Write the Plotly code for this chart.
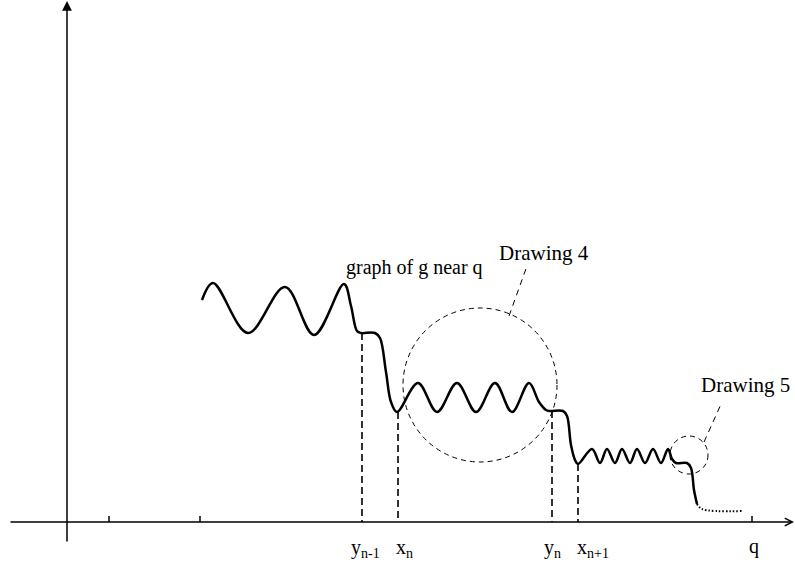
import plotly.graph_objects as go

# drawing is laid out in picture units: x to the right, y downwards
W, H = 795, 568

# knots of the graph of g (peaks, troughs, plateau corners)
curve_x = [202, 213, 248, 285, 314, 344, 351, 357, 361, 375, 380, 386, 391, 397,
           418, 437, 457, 476, 495, 512, 529, 539, 546, 550, 563, 567, 571, 575, 578,
           592, 600, 607, 615, 622, 630, 637, 645, 653, 661, 668, 672, 676, 687, 691, 694, 697]
curve_y = [300, 283, 333, 287, 335, 284, 306, 331, 333, 333, 338, 372, 402, 412,
           383, 412, 383, 412, 383, 412, 383, 402, 410, 411, 411, 416, 445, 460, 464,
           449, 463, 449, 463, 449, 463, 449, 463, 449, 463, 449, 459, 463, 463, 468, 490, 504]

# dotted tail towards q
tail_x = [697, 702, 743]
tail_y = [504, 509, 511]

# dashed drop lines: y_{n-1}, x_n, y_n, x_{n+1}
drop_x = [362, 398, 552, 578]
drop_top = [333, 412, 411, 464]
drop_labels = ["y<sub>n-1</sub>", "x<sub>n</sub>", "y<sub>n</sub>", "x<sub>n+1</sub>"]
label_left = [349, 394, 542, 575]

axis_y = 522
tick_x = [109, 200, 752]

# dashed circles (cx, cy, r) and their labels
circ_cx = [480, 689]
circ_cy = [385, 455]
circ_r = [77, 19]
lead_x0 = [509, 704]
lead_y0 = [316, 442]
lead_x1 = [527, 722]
lead_y1 = [266, 402]
circ_labels = ["Drawing 4", "Drawing 5"]
circ_lab_x = [544, 745]
circ_lab_y = [253, 385]

FONT = "Liberation Serif"

fig = go.Figure()

fig.add_trace(go.Scatter(x=curve_x, y=curve_y, mode="lines",
                         line=dict(color="black", width=2.5, shape="spline", smoothing=1.0)))
fig.add_trace(go.Scatter(x=tail_x, y=tail_y, mode="lines",
                         line=dict(color="black", width=2, dash="1.5px,2px", shape="spline")))

# drop lines
dx, dy = [], []
for x, t in zip(drop_x, drop_top):
    dx += [x, x, None]
    dy += [t, axis_y, None]
fig.add_trace(go.Scatter(x=dx, y=dy, mode="lines",
                         line=dict(color="black", width=1.6, dash="7px,4px")))

# ticks
tx, ty = [], []
for x in tick_x:
    tx += [x, x, None]
    ty += [axis_y - 6, axis_y, None]
fig.add_trace(go.Scatter(x=tx, y=ty, mode="lines", line=dict(color="black", width=1.5)))

# leaders
lx, ly = [], []
for a, b, c, d in zip(lead_x0, lead_y0, lead_x1, lead_y1):
    lx += [a, c, None]
    ly += [b, d, None]
fig.add_trace(go.Scatter(x=lx, y=ly, mode="lines",
                         line=dict(color="black", width=1, dash="6px,5px")))

for cx, cy, r in zip(circ_cx, circ_cy, circ_r):
    fig.add_shape(type="circle", xref="x", yref="y", x0=cx - r, x1=cx + r, y0=cy - r, y1=cy + r,
                  line=dict(color="black", width=1, dash="5px,4px"))

# axes with arrows
fig.add_annotation(x=67, y=1, ax=67, ay=543, xref="x", yref="y", axref="x", ayref="y",
                   showarrow=True, arrowhead=2, arrowsize=1.3, arrowwidth=1.5,
                   arrowcolor="black", text="")
fig.add_annotation(x=794, y=axis_y, ax=9, ay=axis_y, xref="x", yref="y", axref="x", ayref="y",
                   showarrow=True, arrowhead=5, arrowsize=1.0, arrowwidth=1.5,
                   arrowcolor="black", text="")

for t, x in zip(drop_labels, label_left):
    fig.add_annotation(x=x, y=548, xref="x", yref="y", text=t, showarrow=False,
                       xanchor="left", yanchor="middle", font=dict(family=FONT, size=20, color="black"))
fig.add_annotation(x=754, y=546, xref="x", yref="y", text="q", showarrow=False,
                   font=dict(family=FONT, size=20, color="black"))
fig.add_annotation(x=414, y=267, xref="x", yref="y", text="graph of g near q", showarrow=False,
                   font=dict(family=FONT, size=20, color="black"))
for t, x, y in zip(circ_labels, circ_lab_x, circ_lab_y):
    fig.add_annotation(x=x, y=y, xref="x", yref="y", text=t, showarrow=False,
                       font=dict(family=FONT, size=21, color="black"))

fig.update_layout(width=W, height=H, autosize=False, showlegend=False,
                  margin=dict(l=0, r=0, t=0, b=0),
                  paper_bgcolor="white", plot_bgcolor="white",
                  xaxis=dict(range=[0, W], visible=False, fixedrange=True),
                  yaxis=dict(range=[H, 0], visible=False, fixedrange=True))

fig.write_html("out.html", config={"displayModeBar": False},
               post_script="document.body.style.margin='0';")
